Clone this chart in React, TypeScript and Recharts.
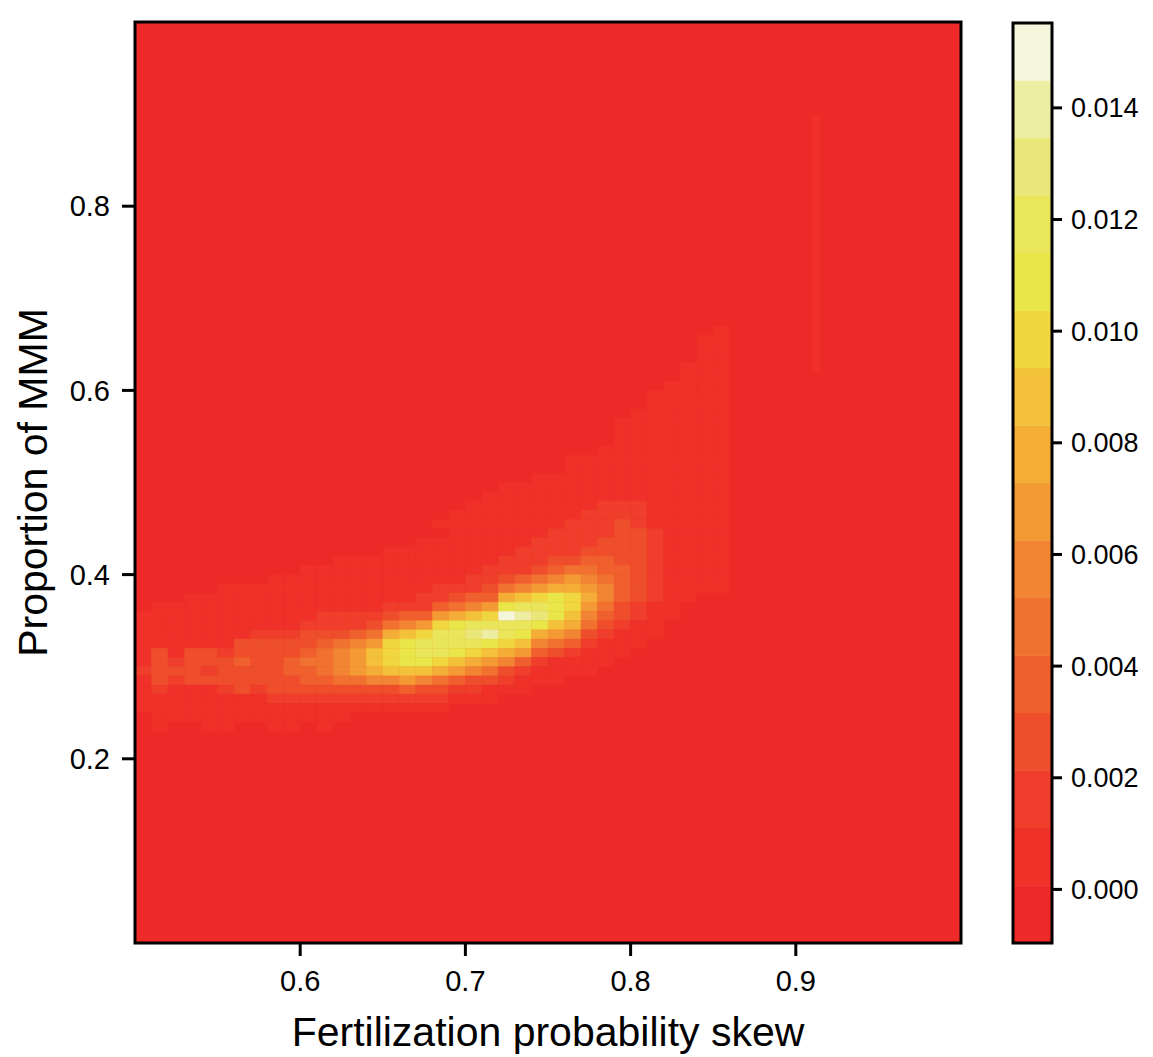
import React from 'react';
import { ScatterChart, XAxis, YAxis, ReferenceArea, Label } from 'recharts';

const FONT = '"Liberation Sans", Arial, Helvetica, sans-serif';

// axes
const xDomain = [0.5, 1];
const yDomain = [0, 1];
const xTicks = [0.6, 0.7, 0.8, 0.9];
const yTicks = [0.2, 0.4, 0.6, 0.8];

// colour key: 16 levels
const legendTicks = [0, 0.002, 0.004, 0.006, 0.008, 0.01, 0.012, 0.014];
const levelBreaks = [
  -0.00096, 0.00007, 0.0011, 0.00213, 0.00316, 0.00419, 0.00522, 0.00625, 0.00728,
  0.00831, 0.00934, 0.01037, 0.0114, 0.01243, 0.01346, 0.01449, 0.01552,
];
const levelColors = [
  '#EE2A28', '#EF312A', '#EF3E2B', '#EF4E2C', '#F0602E', '#F17230', '#F28533', '#F49A35',
  '#F4AD37', '#F3C23A', '#F1D73F', '#E9E64A', '#E9E65B', '#EAE77A', '#EEEDA4', '#F6F6DC',
];

// density grid (cell edges), one hex digit per cell = colour level
const colEdges = [
  0.5, 0.51, 0.52, 0.53, 0.54, 0.55, 0.56, 0.57, 0.58, 0.59, 0.6, 0.61, 0.62, 0.63, 0.64,
  0.65, 0.66, 0.67, 0.68, 0.69, 0.7, 0.71, 0.72, 0.73, 0.74, 0.75, 0.76, 0.77, 0.78, 0.79,
  0.8, 0.81, 0.82, 0.83, 0.84, 0.85, 0.86,
];
const rowEdges = [
  0.67, 0.66, 0.65, 0.64, 0.63, 0.62, 0.61, 0.6, 0.59, 0.58, 0.57, 0.56, 0.55, 0.54, 0.53,
  0.52, 0.51, 0.5, 0.49, 0.48, 0.47, 0.46, 0.45, 0.44, 0.43, 0.42, 0.41, 0.4, 0.39, 0.38,
  0.37, 0.36, 0.35, 0.34, 0.33, 0.32, 0.31, 0.3, 0.29, 0.28, 0.27, 0.26, 0.25, 0.24, 0.23,
];
const heatRows = [
  '000000000000000000000000000000000001',
  '000000000000000000000000000000000011',
  '000000000000000000000000000000000011',
  '000000000000000000000000000000000011',
  '000000000000000000000000000000000111',
  '000000000000000000000000000000000111',
  '000000000000000000000000000000001111',
  '000000000000000000000000000000011111',
  '000000000000000000000000000000011111',
  '000000000000000000000000000000111111',
  '000000000000000000000000000001111111',
  '000000000000000000000000000001111111',
  '000000000000000000000000000001111111',
  '000000000000000000000000000011111111',
  '000000000000000000000000001111111111',
  '000000000000000000000000001111111111',
  '000000000000000000000000111111111111',
  '000000000000000000000011111111111111',
  '000000000000000000000111111111111111',
  '000000000000000000001111111122211111',
  '000000000000000000011111111222211111',
  '000000000000000000111111112223211111',
  '000000000000000000011111122223321111',
  '000000000000000001111111222233321111',
  '000000000000000111111112222333321111',
  '000000000000111111111122233443321111',
  '000000000011111111111222345544321111',
  '000000001111111111112234567654321111',
  '000001111111111111222356788764321111',
  '000111111111111112234489aba864321100',
  '0111111111111112224567bccba753211000',
  '111111111112222344789afedb9643211000',
  '111111111122223567abccccb98532110000',
  '11111112223334589accdecb876321110000',
  '111111333334567abccccba9654211100000',
  '131332333345679abccba987432111000000',
  '132333433455679abba98764211110000000',
  '233323333445678999876532111100000000',
  '132333333344556676543321110000000000',
  '121112323333333343322111000000000000',
  '111111112222222222211100000000000000',
  '111111111111111111100000000000000000',
  '011111111111100000000000000000000000',
  '010011001101000000000000000000000000',
];
const faintStripes = [{ x1: 0.91, x2: 0.915, y1: 0.62, y2: 0.9, level: 1 }];

type Cell = { x1: number; x2: number; y1: number; y2: number; level: number };

const cells: Cell[] = [];
heatRows.forEach((row, r) => {
  for (let c = 0; c < row.length && c < colEdges.length - 1; c++) {
    const level = parseInt(row[c], 16);
    if (level > 0) {
      cells.push({ x1: colEdges[c], x2: colEdges[c + 1], y1: rowEdges[r + 1], y2: rowEdges[r], level });
    }
  }
});
faintStripes.forEach((s) => cells.push(s));

const keyX = [0, 1];

const tickStyle = { fill: '#000', fontSize: 29, fontFamily: FONT };
const keyTickStyle = { fill: '#000', fontSize: 27, fontFamily: FONT };
const tickLineStyle = { stroke: '#000', strokeWidth: 3 };

const App: React.FC = () => {
  return (
    <div style={{ position: 'absolute', left: 0, top: 0, width: 1153, height: 1057, background: '#fff', fontFamily: FONT }}>
      {/* main heat map */}
      <div style={{ position: 'absolute', left: 0, top: 0 }}>
        <ScatterChart width={1000} height={1057} margin={{ top: 0, right: 0, bottom: 0, left: 0 }}>
          <XAxis
            xAxisId="b"
            type="number"
            dataKey="x"
            domain={xDomain}
            ticks={xTicks}
            allowDataOverflow
            orientation="bottom"
            height={114}
            stroke="#000"
            strokeWidth={3}
            tickSize={13}
            tickMargin={14}
            tick={tickStyle}
            tickLine={tickLineStyle}
            axisLine={false}
          >
            <Label
              value="Fertilization probability skew"
              position="insideBottom"
              offset={11}
              style={{ fontSize: 41, fill: '#000', fontFamily: FONT, strokeWidth: 0 }}
            />
          </XAxis>
          <XAxis
            xAxisId="t"
            type="number"
            domain={xDomain}
            ticks={xTicks}
            allowDataOverflow
            orientation="top"
            height={22}
            stroke="#000"
            strokeWidth={3}
            tickSize={13}
            tick={false}
            tickLine={tickLineStyle}
            axisLine={false}
          />
          <YAxis
            yAxisId="l"
            type="number"
            dataKey="y"
            domain={yDomain}
            ticks={yTicks}
            allowDataOverflow
            orientation="left"
            width={135}
            stroke="#000"
            strokeWidth={3}
            tickSize={13}
            tickMargin={12}
            tick={tickStyle}
            tickLine={tickLineStyle}
            axisLine={false}
          >
            <Label
              value="Proportion of MMM"
              angle={-90}
              position="insideLeft"
              offset={32}
              style={{ fontSize: 41, fill: '#000', fontFamily: FONT, textAnchor: 'middle', strokeWidth: 0 }}
            />
          </YAxis>
          <YAxis
            yAxisId="r"
            type="number"
            domain={yDomain}
            ticks={yTicks}
            allowDataOverflow
            orientation="right"
            width={39}
            stroke="#000"
            strokeWidth={3}
            tickSize={13}
            tick={false}
            tickLine={tickLineStyle}
            axisLine={false}
          />

          <ReferenceArea
            xAxisId="b"
            yAxisId="l"
            x1={xDomain[0]}
            x2={xDomain[1]}
            y1={yDomain[0]}
            y2={yDomain[1]}
            fill={levelColors[0]}
            fillOpacity={1}
            stroke="none"
          />
          {cells.map((d, i) => (
            <ReferenceArea
              key={i}
              xAxisId="b"
              yAxisId="l"
              x1={d.x1}
              x2={d.x2}
              y1={d.y1}
              y2={d.y2}
              fill={levelColors[d.level]}
              fillOpacity={1}
              stroke={levelColors[d.level]}
              strokeWidth={0.5}
            />
          ))}
          <ReferenceArea
            xAxisId="b"
            yAxisId="l"
            x1={xDomain[0]}
            x2={xDomain[1]}
            y1={yDomain[0]}
            y2={yDomain[1]}
            fill="none"
            stroke="#000"
            strokeWidth={3}
          />
        </ScatterChart>
      </div>

      {/* colour key */}
      <div style={{ position: 'absolute', left: 1000, top: 0 }}>
        <ScatterChart width={153} height={1057} margin={{ top: 23, right: 0, bottom: 0, left: 13 }}>
          <XAxis
            xAxisId="k"
            type="number"
            dataKey="x"
            domain={keyX}
            allowDataOverflow
            orientation="bottom"
            height={114}
            tick={false}
            tickLine={false}
            axisLine={false}
          />
          <YAxis
            yAxisId="k"
            type="number"
            dataKey="y"
            domain={[levelBreaks[0], levelBreaks[levelBreaks.length - 1]]}
            ticks={legendTicks}
            allowDataOverflow
            orientation="right"
            width={101}
            stroke="#000"
            strokeWidth={3}
            tickSize={10}
            tickMargin={9}
            tickFormatter={(v: number) => v.toFixed(3)}
            tick={keyTickStyle}
            tickLine={tickLineStyle}
            axisLine={false}
          />
          {levelColors.map((c, i) => (
            <ReferenceArea
              key={i}
              xAxisId="k"
              yAxisId="k"
              x1={keyX[0]}
              x2={keyX[1]}
              y1={levelBreaks[i]}
              y2={levelBreaks[i + 1]}
              fill={c}
              fillOpacity={1}
              stroke={c}
              strokeWidth={0.5}
            />
          ))}
          <ReferenceArea
            xAxisId="k"
            yAxisId="k"
            x1={keyX[0]}
            x2={keyX[1]}
            y1={levelBreaks[0]}
            y2={levelBreaks[levelBreaks.length - 1]}
            fill="none"
            stroke="#000"
            strokeWidth={3}
          />
        </ScatterChart>
      </div>
    </div>
  );
};

export default App;
